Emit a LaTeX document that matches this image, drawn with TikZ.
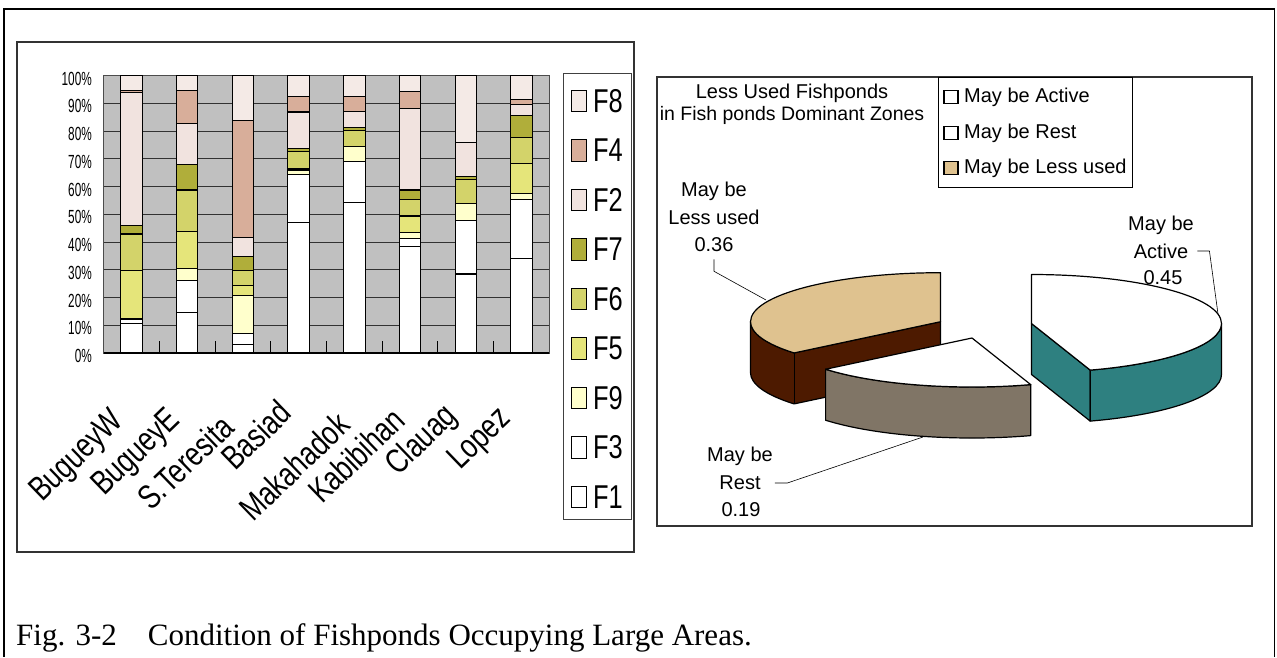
\documentclass[tikz,border=0pt]{standalone}
\usepackage{fontspec}
\usepackage{graphicx}
\setmainfont{Liberation Sans}
\newfontfamily\capfont{Liberation Serif}
\usetikzlibrary{calc}
\definecolor{cFeight}{RGB}{244,234,230}
\definecolor{cFfour}{RGB}{216,174,154}
\definecolor{cFtwo}{RGB}{241,227,223}
\definecolor{cFseven}{RGB}{176,174,58}
\definecolor{cFsix}{RGB}{211,211,106}
\definecolor{cFfive}{RGB}{229,229,122}
\definecolor{cFnine}{RGB}{255,255,204}
\definecolor{cFthree}{RGB}{255,255,255}
\definecolor{cFone}{RGB}{255,255,255}
\definecolor{plotgray}{RGB}{192,192,192}
\definecolor{gridc}{RGB}{50,50,50}
\definecolor{tanc}{RGB}{223,194,143}
\definecolor{brownc}{RGB}{77,26,0}
\definecolor{tealc}{RGB}{46,128,128}
\definecolor{restc}{RGB}{128,117,102}
\begin{document}
\begin{tikzpicture}[x=1pt,y=-1pt,
  panel/.style={draw=black!80, line width=1.3pt},
  seg/.style={draw=black, line width=1.1pt},
  gridline/.style={draw=gridc, line width=1pt},
  ylab/.style={anchor=east, inner sep=0pt, font=\fontsize{19}{20}\selectfont},
  xlab/.style={anchor=base west, rotate=44, inner sep=0pt, font=\fontsize{34}{36}\selectfont},
  leglab/.style={anchor=west, inner sep=0pt, font=\fontsize{33}{35}\selectfont},
  sw/.style={draw=black, line width=1pt},
  pietext/.style={inner sep=0pt, font=\fontsize{20}{24}\selectfont},
  leader/.style={draw=black, line width=0.6pt},
  pieedge/.style={draw=black, line width=1.2pt, line join=round}]
\useasboundingbox (0,0) rectangle (1277,657);
% outer frame
\draw[black, line width=2.5pt] (4,9) -- (1275,9);
\draw[black, line width=1.2pt] (4,8) -- (4,657);
\draw[black, line width=1.2pt] (1274.5,8) -- (1274.5,657);
% panels
\draw[panel] (17,42) rectangle (634,552);
\draw[panel] (657,77) rectangle (1252,526);
% plot area
\fill[plotgray] (103.6,75.7) rectangle (549.4,353);
\foreach \p in {1,...,9}
  \draw[gridline] (103.6,{353-27.73*\p}) -- (549.4,{353-27.73*\p});
\draw[draw=black!70, line width=1pt] (103.6,75.7) rectangle (549.4,353);
\foreach \k in {1,...,7}
  \draw[black, line width=1pt] ({103.6+55.725*\k},353) -- ({103.6+55.725*\k},341);
% bars
\foreach \i/\vals in {
  0/{10.7,12.2,12.5,29.9,42.9,45.9,94.0,94.6,100},
  1/{14.5,26.3,30.4,43.9,58.8,67.9,82.9,94.8,100},
  2/{3.1,7.1,20.7,24.5,29.9,34.7,41.5,84.0,100},
  3/{47.0,64.4,66.0,66.6,72.7,73.6,86.9,92.5,100},
  4/{54.3,69.0,74.6,74.6,80.4,81.4,87.0,92.4,100},
  5/{38.3,41.4,43.5,49.4,55.2,58.8,88.2,94.2,100},
  6/{28.5,47.7,54.0,54.0,62.6,63.8,76.0,76.0,100},
  7/{34.1,55.2,57.6,68.4,77.6,85.8,89.7,91.5,100}} {
  \pgfmathsetmacro\bx{103.6+55.725*(\i+0.5)}
  \foreach \v [count=\k, remember=\v as \prev (initially 0)] in \vals {
    \pgfmathparse{{"cFone","cFthree","cFnine","cFfive","cFsix","cFseven","cFtwo","cFfour","cFeight"}[\k-1]}
    \edef\col{\pgfmathresult}
    \filldraw[seg, fill=\col] ({\bx-10.75},{353-2.773*\prev}) rectangle ({\bx+10.75},{353-2.773*\v});
  }
}
\draw[black, line width=1.3pt] (103.6,353) -- (549.4,353);
% y labels
\foreach \p [count=\n] in {0,10,...,100}
  \node[ylab] (yl\n) at (92,{356-2.773*\p}) {\scalebox{0.62}[1]{\p\%}};
% x labels
\foreach \t/\xx/\yy [count=\n] in {BugueyW/42/503, BugueyE/104/497, S.Teresita/151/512, Basiad/235/472, Makahadok/253/523, Kabibihan/322/505, Clauag/398/477, Lopez/460/471}
  \node[xlab] (xl\n) at (\xx,\yy) {\scalebox{0.78}[1]{\t}};
% legend
\draw[draw=black!75, line width=1pt] (563,73) rectangle (631,519);
\foreach \lab/\c [count=\n] in {F8/cFeight, F4/cFfour, F2/cFtwo, F7/cFseven, F6/cFsix, F5/cFfive, F9/cFnine, F3/cFthree, F1/cFone} {
  \pgfmathsetmacro\ly{101+49.5*(\n-1)}
  \filldraw[sw, fill=\c] (571.7,{\ly-10.8}) rectangle (586.7,{\ly+10.8});
  \node[leglab] (lg\n) at (593,\ly) {\scalebox{0.77}[1]{\lab}};
}
% pie title
\node[pietext] (ttlA) at (792,93) {Less Used Fishponds};
\node[pietext, font=\fontsize{19.5}{24}\selectfont] (ttlB) at (792,115) {in Fish ponds Dominant Zones};
% pie legend
\draw[black, line width=1pt] (938,77) rectangle (1132,187);
\foreach \lab/\c/\yy [count=\n] in {May be Active/white/97, May be Rest/white/133, May be Less used/tanc/168} {
  \filldraw[draw=black, line width=1.2pt, fill=\c] (944,{\yy-6.5}) rectangle (958,{\yy+6.5});
  \node[pietext, anchor=west] (pl\n) at (964,\yy) {\lab};
}
% ---- pie: Less used
\filldraw[pieedge, fill=brownc] (940.5,321.7) -- (794.1,352.9) arc[start angle=140.4, end angle=180, x radius=190, y radius=49] -- ++(0,51) arc[start angle=180, end angle=140.4, x radius=190, y radius=49] -- (940.5,372.7) -- cycle;
\draw[pieedge] (794.1,352.9) -- ++(0,51);
\filldraw[pieedge, fill=tanc] (940.5,321.7) -- ++(0,-49) arc[start angle=270, end angle=140.4, x radius=190, y radius=49] -- cycle;
% ---- pie: Active
\filldraw[pieedge, fill=tealc] (1031.5,323.5) -- (1090.2,370.1) -- ++(0,51) -- (1031.5,374.5) -- cycle;
\filldraw[pieedge, fill=tealc] (1090.2,370.1) arc[start angle=72, end angle=0, x radius=190, y radius=49] -- ++(0,51) arc[start angle=0, end angle=72, x radius=190, y radius=49] -- cycle;
\filldraw[pieedge, fill=white] (1031.5,323.5) -- ++(0,-49) arc[start angle=270, end angle=432, x radius=190, y radius=49] -- cycle;
% ---- pie: Rest
\filldraw[pieedge, fill=restc] (1030.7,384.6) arc[start angle=72, end angle=140.4, x radius=190, y radius=49] -- ++(0,51) arc[start angle=140.4, end angle=72, x radius=190, y radius=49] -- cycle;
\filldraw[pieedge, fill=white] (972,338) -- (1030.7,384.6) arc[start angle=72, end angle=140.4, x radius=190, y radius=49] -- cycle;
% pie labels
\node[pietext] (lessA) at (714,191) {May be};
\node[pietext] (lessB) at (714,217) {Less used};
\node[pietext] (lessC) at (714,245) {0.36};
\node[pietext] (actA) at (1161,225) {May be};
\node[pietext] (actB) at (1161,251) {Active};
\node[pietext] (actC) at (1163,278) {0.45};
\node[pietext] (restA) at (740,456) {May be};
\node[pietext] (restB) at (740,483) {Rest};
\node[pietext] (restC) at (741,510) {0.19};
\coordinate (lessend) at (766,300);
\coordinate (actend) at (1218,314);
\coordinate (restend) at (923,437);
\draw[leader] ([yshift=-7pt]lessC.south) -- ++(0,12) -- (lessend);
\draw[leader] ([xshift=9pt]actB.east) -- ++(12,0) -- (actend);
\draw[leader] ([xshift=14pt]restB.east) -- ++(12.6,0) -- (restend);
% caption
\node[anchor=base west, inner sep=0pt, font=\capfont\fontsize{31}{36}\selectfont] (cap) at (16,645) {Fig. 3-2\hspace{31pt}Condition of Fishponds Occupying Large Areas.};
\end{tikzpicture}
\end{document}
